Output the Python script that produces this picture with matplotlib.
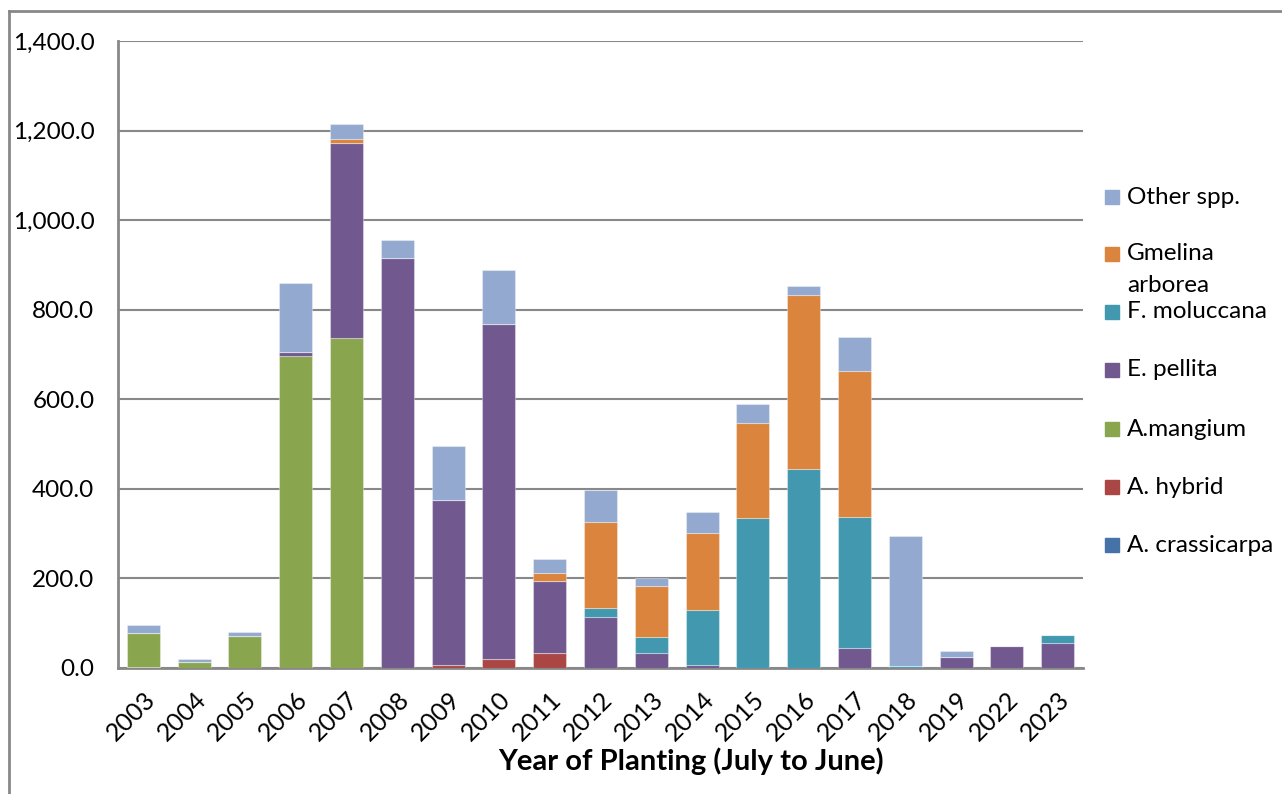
import matplotlib
matplotlib.use("Agg")
import matplotlib.pyplot as plt
from matplotlib.patches import Rectangle
from matplotlib.lines import Line2D
import numpy as np

plt.rcParams['font.family'] = ['Lato', 'DejaVu Sans']

years = ['2003', '2004', '2005', '2006', '2007', '2008', '2009', '2010', '2011',
         '2012', '2013', '2014', '2015', '2016', '2017', '2018', '2019', '2022', '2023']

# stacked from the bottom up
a_crassicarpa = [2, 0, 0, 0, 0, 0, 0, 0, 0, 0, 0, 0, 0, 0, 0, 0, 0, 0, 0]
a_hybrid = [0, 0, 0, 0, 0, 0, 6, 19, 33, 0, 0, 0, 0, 0, 0, 0, 0, 0, 0]
a_mangium = [77, 14, 72, 697, 737, 0, 0, 0, 0, 0, 0, 0, 0, 0, 0, 0, 0, 0, 0]
e_pellita = [0, 0, 0, 8, 435, 916, 369, 749, 161, 113, 34, 6, 0, 0, 45, 0, 25, 49, 56]
f_moluccana = [0, 0, 0, 0, 0, 0, 0, 0, 0, 22, 35, 123, 336, 444, 292, 5, 0, 0, 17]
gmelina = [0, 0, 0, 0, 9, 0, 0, 0, 18, 191, 114, 172, 210, 389, 326, 0, 0, 0, 0]
other_spp = [17, 7, 8, 155, 34, 40, 121, 121, 31, 71, 18, 47, 44, 20, 76, 290, 14, 0, 0]

series = [
    ('A. crassicarpa', a_crassicarpa, '#4572A7'),
    ('A. hybrid', a_hybrid, '#AA4643'),
    ('A.mangium', a_mangium, '#89A54E'),
    ('E. pellita', e_pellita, '#71588F'),
    ('F. moluccana', f_moluccana, '#4198AF'),
    ('Gmelina arborea', gmelina, '#DB843D'),
    ('Other spp.', other_spp, '#93A9CF'),
]

grid_col = '#888888'

fig = plt.figure(figsize=(12.82, 7.94), dpi=100)
ax = fig.add_axes([118 / 1282, 1 - 668 / 794, (1083 - 118) / 1282, (668 - 41) / 794])

x = np.arange(len(years))
bottom = np.zeros(len(years))
for name, vals, col in series:
    vals = np.array(vals, dtype=float)
    ax.bar(x, vals, width=0.65, bottom=bottom, color=col,
           edgecolor=(1, 1, 1, 0.35), linewidth=0.8, zorder=3)
    bottom += vals

ax.set_xlim(-0.5, len(years) - 0.5)
ax.set_ylim(0, 1400)
ax.set_yticks(np.arange(0, 1401, 200))
ax.set_yticklabels([f'{v:,.1f}' for v in np.arange(0, 1401, 200)])
ax.yaxis.grid(True, color=grid_col, linewidth=1.5, zorder=0)
ax.set_axisbelow(True)

ax.set_xticks(x)
ax.set_xticklabels(years, rotation=45, ha='right', va='top', rotation_mode='anchor')

ax.tick_params(axis='y', length=0, pad=17, labelsize=17.5)
ax.tick_params(axis='x', length=0, pad=14, labelsize=18)

for s in ['top', 'right']:
    ax.spines[s].set_visible(False)
for s in ['left', 'bottom']:
    ax.spines[s].set_color(grid_col)
    ax.spines[s].set_linewidth(2)

fig.text(691 / 1282, 1 - 761 / 794, 'Year of Planting (July to June)',
         ha='center', va='center', fontsize=21, fontweight='bold')

# legend drawn by hand; the long label wraps with its marker on the first line
leg_y = [545, 487, 429, 370, 312, 254, 197]
for (name, vals, col), yy in zip(series, leg_y):
    fig.patches.append(Rectangle((1105 / 1282, 1 - (yy + 7) / 794), 14 / 1282, 14 / 794,
                                 transform=fig.transFigure, color=col))
    lines = name.split(' ') if name.startswith('Gmelina') else [name]
    for i, ln in enumerate(lines):
        fig.text(1127 / 1282, 1 - (yy + 31 * i) / 794, ln, ha='left', va='center',
                 fontsize=17.5)

# outer chart border (top and left only visible)
fig.add_artist(Line2D([9 / 1282, 1], [1 - 11 / 794, 1 - 11 / 794], color=grid_col,
                      linewidth=2, transform=fig.transFigure))
fig.add_artist(Line2D([9 / 1282, 9 / 1282], [1 - 11 / 794, 0], color=grid_col,
                      linewidth=2, transform=fig.transFigure))

fig.savefig('out.png', dpi=100)
